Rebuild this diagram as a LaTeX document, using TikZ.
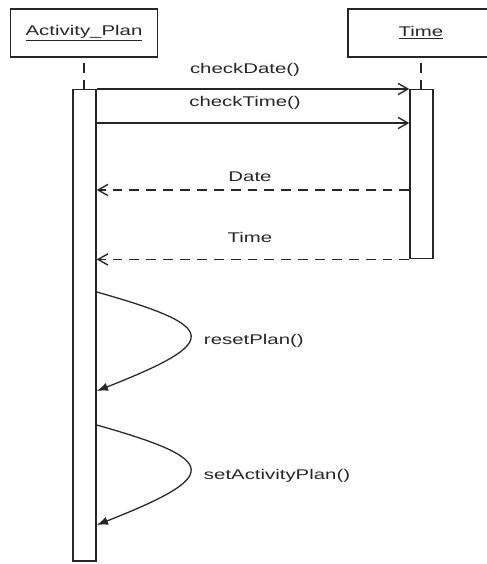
\documentclass[tikz,border=0pt]{standalone}
\usepackage{fontspec}
\newfontfamily\seqfont[FakeStretch=1.45]{Liberation Sans}
\usetikzlibrary{arrows.meta}

\begin{document}
\begin{tikzpicture}[x=0.025cm,y=-0.025cm,font=\seqfont\fontsize{10}{12}\selectfont,
  color=black!85,line cap=butt,
  objbox/.style={draw,line width=1.1pt,minimum height=1.2cm,inner sep=0pt},
  actbar/.style={draw,line width=1pt,minimum width=0.575cm,inner sep=0pt,anchor=north,fill=white},
  lifeline/.style={line width=1pt,dash pattern=on 7pt off 5pt},
  callmsg/.style={line width=1pt,-{Straight Barb[length=7pt,width=8pt]}},
  retmsg/.style={line width=1pt,dash pattern=on 7pt off 5pt,-{Straight Barb[length=7pt,width=8pt]}},
  selfmsg/.style={line width=0.9pt,-{Latex[length=8pt,width=6pt]}}]
\useasboundingbox (0,0) rectangle (486,564);
% objects
\node[objbox,minimum width=3.675cm] (ap) at (84,33) {\underline{Activity\_Plan}};
\node[objbox,minimum width=3.65cm] (tm) at (421,33) {\underline{Time}};
% activation bars
\node[actbar,minimum height=11.775cm] (apbar) at (84.5,89) {};
\node[actbar,minimum height=4.225cm] (tmbar) at (421.5,89) {};
\draw[lifeline] (ap.south |- 0,63) -- (apbar.north -| ap.south);
\draw[lifeline] (tm.south |- 0,63) -- (tmbar.north -| tm.south);
% messages
\draw[callmsg] (apbar.north east) -- (tmbar.north west);
\draw[callmsg] (apbar.east |- 0,123) -- (tmbar.west |- 0,123);
\draw[retmsg] (tmbar.west |- 0,190) -- (apbar.east |- 0,190);
\draw[retmsg] (tmbar.south west) -- (apbar.east |- tmbar.south);
\node (checkdate) at (245,70) {checkDate()};
\node (checktime) at (245,103) {checkTime()};
\node (date) at (250,177) {Date};
\node (time) at (250,237) {Time};
% self calls
\draw[selfmsg] (apbar.east |- 0,292) .. controls (221,327) and (221,342) .. (apbar.east |- 0,391);
\node[anchor=west] (resetplan) at (199,341) {resetPlan()};
\draw[selfmsg] (apbar.east |- 0,425) .. controls (221,460) and (221,476) .. (apbar.east |- 0,525);
\node[anchor=west] (setplan) at (199,476) {setActivityPlan()};
\end{tikzpicture}
\end{document}
